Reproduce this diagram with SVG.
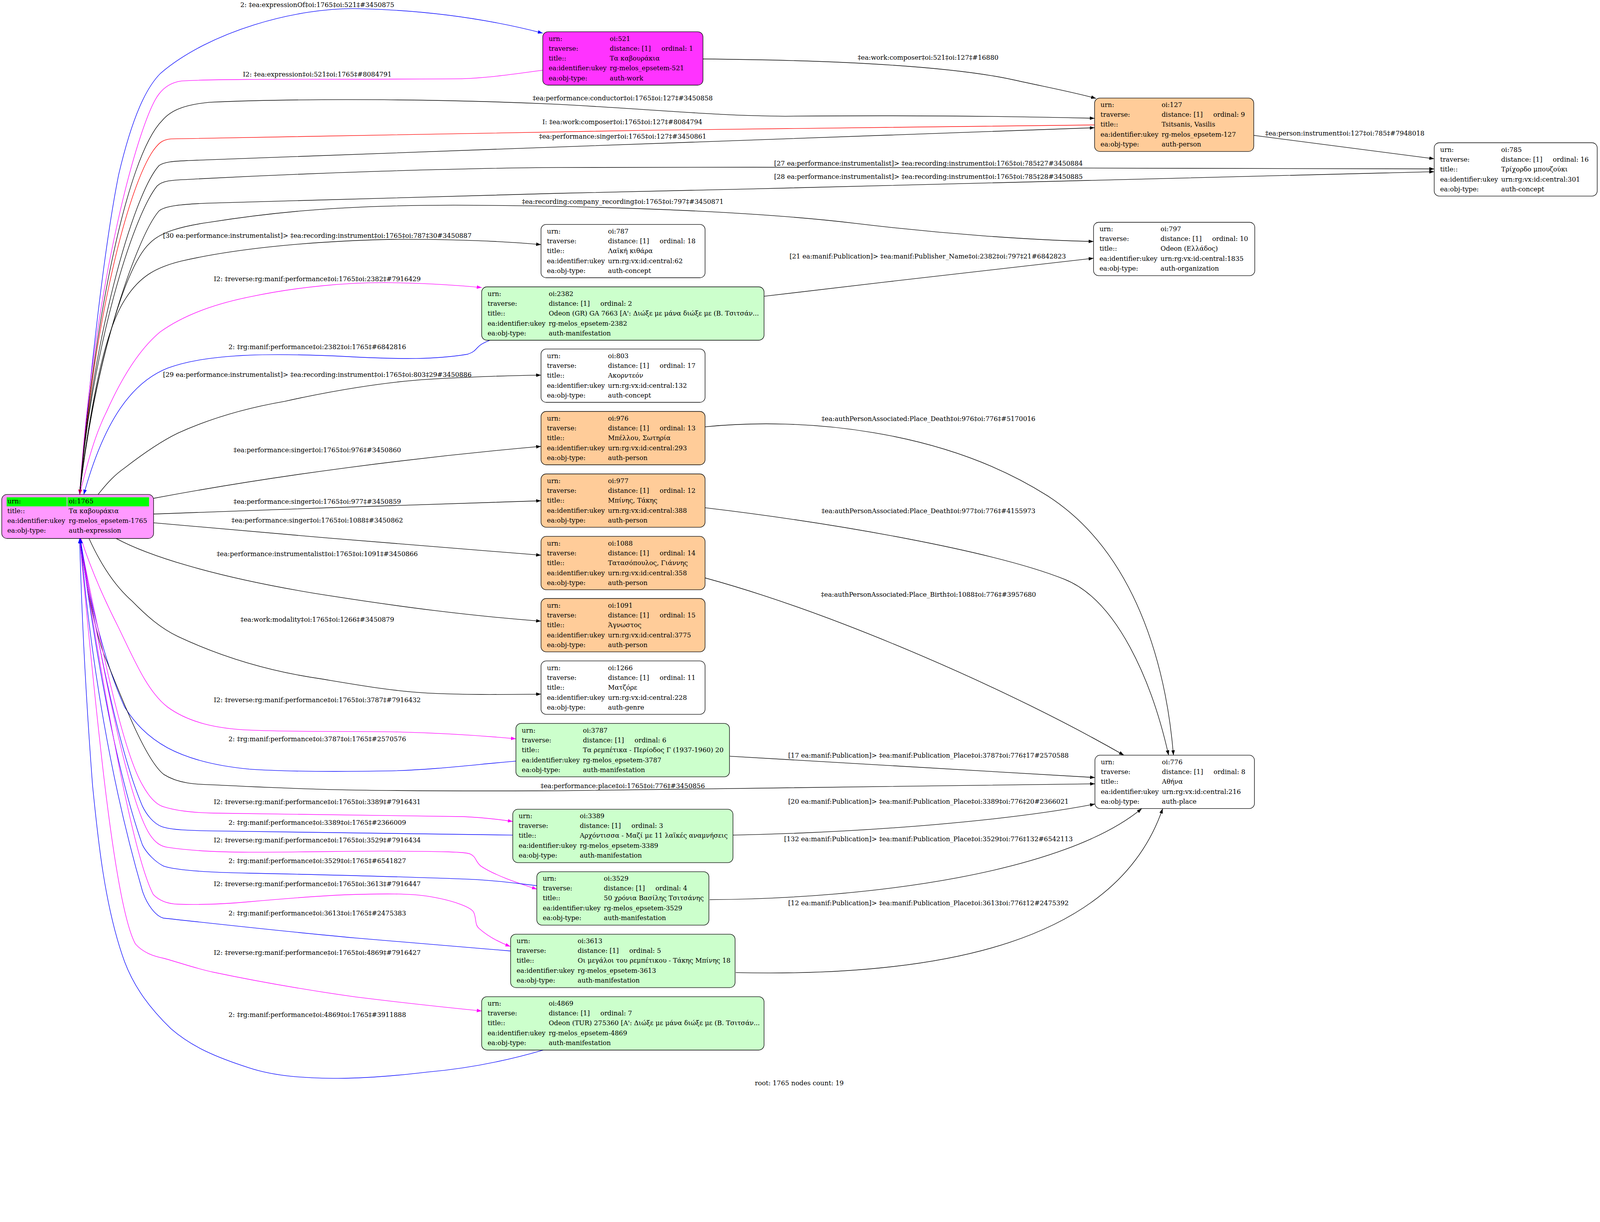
<svg xmlns="http://www.w3.org/2000/svg" width="4584" height="3129" viewBox="0 0 4584 3129">
<style>
svg{width:100vw;height:68.259vw;display:block}
text{font-family:"DejaVu Serif","Liberation Serif",serif;font-size:18.6px;fill:#000}
.el{text-anchor:middle}
.box{stroke:#000;stroke-width:1.5}
.e{fill:none;stroke-width:1.5}
.k{stroke:#000}.b{stroke:#0000ff}.m{stroke:#ff00ff}.r{stroke:#ff0000}
</style>
<defs>
<marker id="ak" markerUnits="userSpaceOnUse" markerWidth="15" markerHeight="11" refX="14" refY="5" orient="auto"><path d="M0,0 L14,5 L0,10 z" fill="#000"/></marker>
<marker id="ab" markerUnits="userSpaceOnUse" markerWidth="15" markerHeight="11" refX="14" refY="5" orient="auto"><path d="M0,0 L14,5 L0,10 z" fill="#0000ff"/></marker>
<marker id="am" markerUnits="userSpaceOnUse" markerWidth="15" markerHeight="11" refX="14" refY="5" orient="auto"><path d="M0,0 L14,5 L0,10 z" fill="#ff00ff"/></marker>
<marker id="ar" markerUnits="userSpaceOnUse" markerWidth="15" markerHeight="11" refX="14" refY="5" orient="auto"><path d="M0,0 L14,5 L0,10 z" fill="#ff0000"/></marker>
</defs>
<rect width="4584" height="3129" fill="#fff"/>
<g id="edges">
<path class="e b" marker-end="url(#ab)" d="M228,1417 C260,1050 300,700 340,500 C380,330 420,250 460,210 C600,90 850,20 1030,25 C1250,30 1420,60 1555,95"/>
<path class="e m" marker-end="url(#am)" d="M1556,201 C1450,215 1380,226 1300,226 C1000,228 620,225 520,232 C490,236 470,250 455,270 C400,340 270,800 228,1417"/>
<path class="e k" marker-end="url(#ak)" d="M2014,169 C2350,172 2700,185 2900,228 C3000,250 3080,265 3140,282"/>
<path class="e k" marker-end="url(#ak)" d="M228,1417 C265,950 360,450 465,345 C490,315 530,300 600,293 C900,280 1300,285 1600,299 C1900,315 2050,332 2250,333 C2600,330 2900,333 3136,339"/>
<path class="e r" marker-end="url(#ar)" d="M3136,358 C2500,362 1000,385 490,398 C465,400 455,410 440,430 C370,530 270,900 229,1417"/>
<path class="e k" marker-end="url(#ak)" d="M228,1417 C262,980 380,560 455,475 C470,463 500,462 540,460 C1400,428 2400,392 3136,366"/>
<path class="e k" marker-end="url(#ak)" d="M3592,388 L4109,455"/>
<path class="e k" marker-end="url(#ak)" d="M228,1417 C262,1000 380,620 450,533 C465,518 490,516 540,514 C900,495 1300,482 1600,480 C2500,478 3500,480 4109,484"/>
<path class="e k" marker-end="url(#ak)" d="M228,1417 C265,1050 390,680 455,605 C470,590 520,585 600,582 C1000,570 1300,560 1600,554 C2500,535 3500,505 4109,492"/>
<path class="e k" marker-end="url(#ak)" d="M228,1417 C265,1100 350,770 429,697 C460,665 520,648 600,637 C800,605 1000,588 1300,588 C1800,590 2200,610 2450,640 C2700,670 2950,688 3133,692"/>
<path class="e k" marker-end="url(#ak)" d="M228,1417 C260,1150 300,950 357,860 C400,790 450,765 520,748 C650,718 850,692 1122,686 C1300,685 1450,692 1550,701"/>
<path class="e m" marker-end="url(#am)" d="M228,1417 C250,1330 270,1250 306,1178 C350,1080 400,1000 459,951 C530,900 620,870 714,851 C850,822 1000,808 1122,810 C1220,812 1300,816 1380,824"/>
<path class="e k" marker-end="url(#ak)" d="M2189,849 C2500,812 2900,766 3133,740"/>
<path class="e b" marker-end="url(#ab)" d="M1404,975 C1385,982 1375,988 1368,996 C1360,1005 1355,1010 1340,1015 C1250,1030 1150,1030 1000,1022 C800,1012 600,1010 480,1055 C380,1095 300,1200 240,1417"/>
<path class="e k" marker-end="url(#ak)" d="M281,1417 C310,1380 330,1360 357,1341 C410,1300 460,1265 510,1241 C600,1200 700,1170 816,1150 C950,1120 1100,1095 1224,1087 C1350,1080 1450,1076 1550,1075"/>
<path class="e k" marker-end="url(#ak)" d="M440,1428 C800,1360 1200,1310 1550,1279"/>
<path class="e k" marker-end="url(#ak)" d="M440,1473 C800,1460 1200,1445 1550,1435"/>
<path class="e k" marker-end="url(#ak)" d="M440,1498 C800,1530 1200,1565 1550,1591"/>
<path class="e k" marker-end="url(#ak)" d="M333,1543 C420,1590 600,1650 900,1700 C1150,1740 1350,1765 1550,1780"/>
<path class="e k" marker-end="url(#ak)" d="M255,1543 C290,1620 330,1680 378,1722 C420,1765 460,1800 510,1824 C640,1885 780,1925 918,1945 C1020,1962 1120,1980 1224,1986 C1350,1992 1450,1990 1550,1989"/>
<path class="e m" marker-end="url(#am)" d="M232,1543 C260,1630 300,1720 337,1793 C380,1880 420,1980 480,2026 C540,2070 620,2088 714,2092 C850,2098 1000,2095 1122,2097 C1250,2100 1380,2108 1478,2117"/>
<path class="e b" marker-end="url(#ab)" d="M1478,2181 C1350,2192 1250,2205 1122,2209 C950,2212 800,2210 714,2204 C620,2195 540,2175 480,2143 C420,2110 385,2070 357,2026 C300,1900 250,1700 230,1543"/>
<path class="e k" marker-end="url(#ak)" d="M2091,2167 C2500,2190 2900,2215 3137,2228"/>
<path class="e k" marker-end="url(#ak)" d="M228,1543 C250,1700 280,1840 306,1895 C360,2030 420,2180 469,2219 C510,2245 560,2248 612,2249 C750,2256 900,2262 1020,2264 C1300,2268 1500,2266 1600,2266 C2200,2262 2700,2252 3137,2246"/>
<path class="e m" marker-end="url(#am)" d="M228,1543 C290,1850 350,2150 408,2249 C425,2280 445,2305 469,2312 C510,2325 560,2329 612,2330 C900,2334 1150,2336 1327,2340 C1390,2343 1430,2348 1469,2354"/>
<path class="e b" marker-end="url(#ab)" d="M1469,2393 C1200,2390 900,2385 612,2381 C540,2380 490,2378 464,2369 C440,2360 420,2335 408,2310 C340,2150 280,1850 230,1543"/>
<path class="e k" marker-end="url(#ak)" d="M2100,2393 C2500,2385 2900,2350 3137,2304"/>
<path class="e m" marker-end="url(#am)" d="M228,1543 C300,1950 370,2300 429,2391 C445,2415 460,2425 480,2428 C560,2440 640,2442 714,2442 C900,2442 1000,2438 1122,2439 C1250,2440 1330,2440 1347,2447 C1365,2455 1362,2470 1378,2482 C1420,2510 1490,2532 1538,2548"/>
<path class="e b" marker-end="url(#ab)" d="M1539,2538 C1470,2530 1420,2523 1357,2520 C1150,2512 900,2506 714,2502 C600,2500 510,2495 469,2482 C445,2470 420,2445 408,2421 C330,2200 270,1850 230,1543"/>
<path class="e k" marker-end="url(#ak)" d="M2033,2578 C2500,2575 3050,2500 3271,2317"/>
<path class="e m" marker-end="url(#am)" d="M228,1543 C300,2000 380,2450 439,2563 C455,2580 480,2590 510,2591 C580,2593 650,2590 714,2584 C850,2572 940,2565 1020,2563 C1100,2561 1170,2560 1224,2568 C1300,2580 1350,2600 1357,2614 C1365,2630 1360,2650 1372,2660 C1400,2685 1430,2700 1462,2712"/>
<path class="e b" marker-end="url(#ab)" d="M1462,2725 C1300,2712 1150,2700 1020,2688 C800,2668 600,2645 469,2631 C445,2625 420,2590 408,2553 C320,2250 260,1900 230,1543"/>
<path class="e k" marker-end="url(#ak)" d="M2108,2787 C2700,2800 3200,2700 3331,2317"/>
<path class="e m" marker-end="url(#am)" d="M228,1543 C280,2100 330,2600 388,2705 C410,2730 440,2740 469,2746 C520,2760 560,2775 612,2786 C750,2815 900,2840 1020,2857 C1150,2873 1280,2887 1380,2897"/>
<path class="e b" marker-end="url(#ab)" d="M1556,3009 C1450,3040 1340,3062 1224,3072 C1130,3083 1050,3090 969,3090 C880,3090 790,3085 714,3060 C620,3030 550,3000 490,2948 C430,2890 385,2830 357,2756 C300,2600 280,2400 265,2249 C250,2050 235,1800 228,1543"/>
<path class="e k" marker-end="url(#ak)" d="M2020,1223 C2300,1195 2700,1230 3000,1420 C3250,1580 3340,1900 3362,2164"/>
<path class="e k" marker-end="url(#ak)" d="M2020,1455 C2400,1500 2850,1580 3050,1660 C3200,1720 3300,1950 3348,2164"/>
<path class="e k" marker-end="url(#ak)" d="M2020,1656 C2400,1760 2900,1980 3220,2164"/>
<g class="el">
<text x="909" y="20">2: ‡ea:expressionOf‡oi:1765‡oi:521‡#3450875</text>
<text x="909" y="219">I2: ‡ea:expression‡oi:521‡oi:1765‡#8084791</text>
<text x="2659" y="171">‡ea:work:composer‡oi:521‡oi:127‡#16880</text>
<text x="1784" y="288">‡ea:performance:conductor‡oi:1765‡oi:127‡#3450858</text>
<text x="1783" y="356">I: ‡ea:work:composer‡oi:1765‡oi:127‡#8084794</text>
<text x="1784" y="397">‡ea:performance:singer‡oi:1765‡oi:127‡#3450861</text>
<text x="3853" y="388">‡ea:person:instrument‡oi:127‡oi:785‡#7948018</text>
<text x="2660" y="474">[27 ea:performance:instrumentalist]&gt; ‡ea:recording:instrument‡oi:1765‡oi:785‡27#3450884</text>
<text x="2660" y="512">[28 ea:performance:instrumentalist]&gt; ‡ea:recording:instrument‡oi:1765‡oi:785‡28#3450885</text>
<text x="1784" y="584">‡ea:recording:company_recording‡oi:1765‡oi:797‡#3450871</text>
<text x="909" y="682">[30 ea:performance:instrumentalist]&gt; ‡ea:recording:instrument‡oi:1765‡oi:787‡30#3450887</text>
<text x="2658" y="741">[21 ea:manif:Publication]&gt; ‡ea:manif:Publisher_Name‡oi:2382‡oi:797‡21#6842823</text>
<text x="909" y="806">I2: ‡reverse:rg:manif:performance‡oi:1765‡oi:2382‡#7916429</text>
<text x="909" y="1001">2: ‡rg:manif:performance‡oi:2382‡oi:1765‡#6842816</text>
<text x="909" y="1080">[29 ea:performance:instrumentalist]&gt; ‡ea:recording:instrument‡oi:1765‡oi:803‡29#3450886</text>
<text x="2660" y="1206">‡ea:authPersonAssociated:Place_Death‡oi:976‡oi:776‡#5170016</text>
<text x="909" y="1296">‡ea:performance:singer‡oi:1765‡oi:976‡#3450860</text>
<text x="909" y="1444">‡ea:performance:singer‡oi:1765‡oi:977‡#3450859</text>
<text x="2660" y="1470">‡ea:authPersonAssociated:Place_Death‡oi:977‡oi:776‡#4155973</text>
<text x="909" y="1497">‡ea:performance:singer‡oi:1765‡oi:1088‡#3450862</text>
<text x="909" y="1594">‡ea:performance:instrumentalist‡oi:1765‡oi:1091‡#3450866</text>
<text x="2660" y="1710">‡ea:authPersonAssociated:Place_Birth‡oi:1088‡oi:776‡#3957680</text>
<text x="909" y="1782">‡ea:work:modality‡oi:1765‡oi:1266‡#3450879</text>
<text x="909" y="2012">I2: ‡reverse:rg:manif:performance‡oi:1765‡oi:3787‡#7916432</text>
<text x="909" y="2124">2: ‡rg:manif:performance‡oi:3787‡oi:1765‡#2570576</text>
<text x="2660" y="2171">[17 ea:manif:Publication]&gt; ‡ea:manif:Publication_Place‡oi:3787‡oi:776‡17#2570588</text>
<text x="1784" y="2258">‡ea:performance:place‡oi:1765‡oi:776‡#3450856</text>
<text x="909" y="2304">I2: ‡reverse:rg:manif:performance‡oi:1765‡oi:3389‡#7916431</text>
<text x="2660" y="2303">[20 ea:manif:Publication]&gt; ‡ea:manif:Publication_Place‡oi:3389‡oi:776‡20#2366021</text>
<text x="909" y="2363">2: ‡rg:manif:performance‡oi:3389‡oi:1765‡#2366009</text>
<text x="909" y="2414">I2: ‡reverse:rg:manif:performance‡oi:1765‡oi:3529‡#7916434</text>
<text x="2660" y="2410">[132 ea:manif:Publication]&gt; ‡ea:manif:Publication_Place‡oi:3529‡oi:776‡132#6542113</text>
<text x="909" y="2473">2: ‡rg:manif:performance‡oi:3529‡oi:1765‡#6541827</text>
<text x="909" y="2539">I2: ‡reverse:rg:manif:performance‡oi:1765‡oi:3613‡#7916447</text>
<text x="2660" y="2594">[12 ea:manif:Publication]&gt; ‡ea:manif:Publication_Place‡oi:3613‡oi:776‡12#2475392</text>
<text x="909" y="2623">2: ‡rg:manif:performance‡oi:3613‡oi:1765‡#2475383</text>
<text x="909" y="2736">I2: ‡reverse:rg:manif:performance‡oi:1765‡oi:4869‡#7916427</text>
<text x="909" y="2914">2: ‡rg:manif:performance‡oi:4869‡oi:1765‡#3911888</text>
</g>
</g>
<g id="n1765" transform="translate(5,1417)">
<rect class="box" width="435" height="126" rx="15" fill="#ff99ff"/>
<rect x="14" y="8" width="172" height="26" fill="#00ff00"/>
<rect x="188" y="8" width="234" height="26" fill="#00ff00"/>
<text x="16" y="26">urn:</text><text x="192" y="26">oi:1765</text>
<text x="16" y="54">title::</text><text x="192" y="54">Τα καβουράκια</text>
<text x="16" y="82">ea:identifier:ukey</text><text x="192" y="82">rg-melos_epsetem-1765</text>
<text x="16" y="110">ea:obj-type:</text><text x="192" y="110">auth-expression</text>
</g>
<g id="n521" transform="translate(1555,91)">
<rect class="box" width="459" height="153" rx="15" fill="#ff33ff"/>
<text x="17" y="26">urn:</text><text x="192" y="26">oi:521</text>
<text x="17" y="54">traverse:</text><text x="192" y="54">distance: [1]</text><text x="340" y="54">ordinal: 1</text>
<text x="17" y="82">title::</text><text x="192" y="82">Τα καβουράκια</text>
<text x="17" y="111">ea:identifier:ukey</text><text x="192" y="111">rg-melos_epsetem-521</text>
<text x="17" y="139">ea:obj-type:</text><text x="192" y="139">auth-work</text>
</g>
<g id="n127" transform="translate(3136,281)">
<rect class="box" width="456" height="153" rx="15" fill="#ffcc99"/>
<text x="17" y="26">urn:</text><text x="192" y="26">oi:127</text>
<text x="17" y="54">traverse:</text><text x="192" y="54">distance: [1]</text><text x="340" y="54">ordinal: 9</text>
<text x="17" y="82">title::</text><text x="192" y="82">Tsitsanis, Vasilis</text>
<text x="17" y="111">ea:identifier:ukey</text><text x="192" y="111">rg-melos_epsetem-127</text>
<text x="17" y="139">ea:obj-type:</text><text x="192" y="139">auth-person</text>
</g>
<g id="n785" transform="translate(4109,409)">
<rect class="box" width="467" height="153" rx="15" fill="#fff"/>
<text x="17" y="26">urn:</text><text x="192" y="26">oi:785</text>
<text x="17" y="54">traverse:</text><text x="192" y="54">distance: [1]</text><text x="340" y="54">ordinal: 16</text>
<text x="17" y="82">title::</text><text x="192" y="82">Τρίχορδο μπουζούκι</text>
<text x="17" y="111">ea:identifier:ukey</text><text x="192" y="111">urn:rg:vx:id:central:301</text>
<text x="17" y="139">ea:obj-type:</text><text x="192" y="139">auth-concept</text>
</g>
<g id="n797" transform="translate(3133,637)">
<rect class="box" width="462" height="153" rx="15" fill="#fff"/>
<text x="17" y="26">urn:</text><text x="192" y="26">oi:797</text>
<text x="17" y="54">traverse:</text><text x="192" y="54">distance: [1]</text><text x="340" y="54">ordinal: 10</text>
<text x="17" y="82">title::</text><text x="192" y="82">Odeon (Ελλάδος)</text>
<text x="17" y="111">ea:identifier:ukey</text><text x="192" y="111">urn:rg:vx:id:central:1835</text>
<text x="17" y="139">ea:obj-type:</text><text x="192" y="139">auth-organization</text>
</g>
<g id="n787" transform="translate(1550,643)">
<rect class="box" width="470" height="153" rx="15" fill="#fff"/>
<text x="17" y="26">urn:</text><text x="192" y="26">oi:787</text>
<text x="17" y="54">traverse:</text><text x="192" y="54">distance: [1]</text><text x="340" y="54">ordinal: 18</text>
<text x="17" y="82">title::</text><text x="192" y="82">Λαϊκή κιθάρα</text>
<text x="17" y="111">ea:identifier:ukey</text><text x="192" y="111">urn:rg:vx:id:central:62</text>
<text x="17" y="139">ea:obj-type:</text><text x="192" y="139">auth-concept</text>
</g>
<g id="n2382" transform="translate(1380,822)">
<rect class="box" width="809" height="153" rx="15" fill="#ccffcc"/>
<text x="17" y="26">urn:</text><text x="192" y="26">oi:2382</text>
<text x="17" y="54">traverse:</text><text x="192" y="54">distance: [1]</text><text x="340" y="54">ordinal: 2</text>
<text x="17" y="82">title::</text><text x="192" y="82">Odeon (GR) GA 7663 [A': Διώξε με μάνα διώξε με (Β. Τσιτσάν...</text>
<text x="17" y="111">ea:identifier:ukey</text><text x="192" y="111">rg-melos_epsetem-2382</text>
<text x="17" y="139">ea:obj-type:</text><text x="192" y="139">auth-manifestation</text>
</g>
<g id="n803" transform="translate(1550,1000)">
<rect class="box" width="470" height="153" rx="15" fill="#fff"/>
<text x="17" y="26">urn:</text><text x="192" y="26">oi:803</text>
<text x="17" y="54">traverse:</text><text x="192" y="54">distance: [1]</text><text x="340" y="54">ordinal: 17</text>
<text x="17" y="82">title::</text><text x="192" y="82">Ακορντεόν</text>
<text x="17" y="111">ea:identifier:ukey</text><text x="192" y="111">urn:rg:vx:id:central:132</text>
<text x="17" y="139">ea:obj-type:</text><text x="192" y="139">auth-concept</text>
</g>
<g id="n976" transform="translate(1550,1179)">
<rect class="box" width="470" height="153" rx="15" fill="#ffcc99"/>
<text x="17" y="26">urn:</text><text x="192" y="26">oi:976</text>
<text x="17" y="54">traverse:</text><text x="192" y="54">distance: [1]</text><text x="340" y="54">ordinal: 13</text>
<text x="17" y="82">title::</text><text x="192" y="82">Μπέλλου, Σωτηρία</text>
<text x="17" y="111">ea:identifier:ukey</text><text x="192" y="111">urn:rg:vx:id:central:293</text>
<text x="17" y="139">ea:obj-type:</text><text x="192" y="139">auth-person</text>
</g>
<g id="n977" transform="translate(1550,1358)">
<rect class="box" width="470" height="153" rx="15" fill="#ffcc99"/>
<text x="17" y="26">urn:</text><text x="192" y="26">oi:977</text>
<text x="17" y="54">traverse:</text><text x="192" y="54">distance: [1]</text><text x="340" y="54">ordinal: 12</text>
<text x="17" y="82">title::</text><text x="192" y="82">Μπίνης, Τάκης</text>
<text x="17" y="111">ea:identifier:ukey</text><text x="192" y="111">urn:rg:vx:id:central:388</text>
<text x="17" y="139">ea:obj-type:</text><text x="192" y="139">auth-person</text>
</g>
<g id="n1088" transform="translate(1550,1537)">
<rect class="box" width="470" height="153" rx="15" fill="#ffcc99"/>
<text x="17" y="26">urn:</text><text x="192" y="26">oi:1088</text>
<text x="17" y="54">traverse:</text><text x="192" y="54">distance: [1]</text><text x="340" y="54">ordinal: 14</text>
<text x="17" y="82">title::</text><text x="192" y="82">Τατασόπουλος, Γιάννης</text>
<text x="17" y="111">ea:identifier:ukey</text><text x="192" y="111">urn:rg:vx:id:central:358</text>
<text x="17" y="139">ea:obj-type:</text><text x="192" y="139">auth-person</text>
</g>
<g id="n1091" transform="translate(1550,1715)">
<rect class="box" width="470" height="153" rx="15" fill="#ffcc99"/>
<text x="17" y="26">urn:</text><text x="192" y="26">oi:1091</text>
<text x="17" y="54">traverse:</text><text x="192" y="54">distance: [1]</text><text x="340" y="54">ordinal: 15</text>
<text x="17" y="82">title::</text><text x="192" y="82">Άγνωστος</text>
<text x="17" y="111">ea:identifier:ukey</text><text x="192" y="111">urn:rg:vx:id:central:3775</text>
<text x="17" y="139">ea:obj-type:</text><text x="192" y="139">auth-person</text>
</g>
<g id="n1266" transform="translate(1550,1894)">
<rect class="box" width="470" height="153" rx="15" fill="#fff"/>
<text x="17" y="26">urn:</text><text x="192" y="26">oi:1266</text>
<text x="17" y="54">traverse:</text><text x="192" y="54">distance: [1]</text><text x="340" y="54">ordinal: 11</text>
<text x="17" y="82">title::</text><text x="192" y="82">Ματζόρε</text>
<text x="17" y="111">ea:identifier:ukey</text><text x="192" y="111">urn:rg:vx:id:central:228</text>
<text x="17" y="139">ea:obj-type:</text><text x="192" y="139">auth-genre</text>
</g>
<g id="n3787" transform="translate(1478,2073)">
<rect class="box" width="612" height="153" rx="15" fill="#ccffcc"/>
<text x="17" y="26">urn:</text><text x="192" y="26">oi:3787</text>
<text x="17" y="54">traverse:</text><text x="192" y="54">distance: [1]</text><text x="340" y="54">ordinal: 6</text>
<text x="17" y="82">title::</text><text x="192" y="82">Τα ρεμπέτικα - Περίοδος Γ (1937-1960) 20</text>
<text x="17" y="111">ea:identifier:ukey</text><text x="192" y="111">rg-melos_epsetem-3787</text>
<text x="17" y="139">ea:obj-type:</text><text x="192" y="139">auth-manifestation</text>
</g>
<g id="n776" transform="translate(3137,2164)">
<rect class="box" width="457" height="153" rx="15" fill="#fff"/>
<text x="17" y="26">urn:</text><text x="192" y="26">oi:776</text>
<text x="17" y="54">traverse:</text><text x="192" y="54">distance: [1]</text><text x="340" y="54">ordinal: 8</text>
<text x="17" y="82">title::</text><text x="192" y="82">Αθήνα</text>
<text x="17" y="111">ea:identifier:ukey</text><text x="192" y="111">urn:rg:vx:id:central:216</text>
<text x="17" y="139">ea:obj-type:</text><text x="192" y="139">auth-place</text>
</g>
<g id="n3389" transform="translate(1469,2319)">
<rect class="box" width="631" height="153" rx="15" fill="#ccffcc"/>
<text x="17" y="26">urn:</text><text x="192" y="26">oi:3389</text>
<text x="17" y="54">traverse:</text><text x="192" y="54">distance: [1]</text><text x="340" y="54">ordinal: 3</text>
<text x="17" y="82">title::</text><text x="192" y="82">Αρχόντισσα - Μαζί με 11 λαϊκές αναμνήσεις</text>
<text x="17" y="111">ea:identifier:ukey</text><text x="192" y="111">rg-melos_epsetem-3389</text>
<text x="17" y="139">ea:obj-type:</text><text x="192" y="139">auth-manifestation</text>
</g>
<g id="n3529" transform="translate(1538,2498)">
<rect class="box" width="493" height="153" rx="15" fill="#ccffcc"/>
<text x="17" y="26">urn:</text><text x="192" y="26">oi:3529</text>
<text x="17" y="54">traverse:</text><text x="192" y="54">distance: [1]</text><text x="340" y="54">ordinal: 4</text>
<text x="17" y="82">title::</text><text x="192" y="82">50 χρόνια Βασίλης Τσιτσάνης</text>
<text x="17" y="111">ea:identifier:ukey</text><text x="192" y="111">rg-melos_epsetem-3529</text>
<text x="17" y="139">ea:obj-type:</text><text x="192" y="139">auth-manifestation</text>
</g>
<g id="n3613" transform="translate(1463,2677)">
<rect class="box" width="643" height="153" rx="15" fill="#ccffcc"/>
<text x="17" y="26">urn:</text><text x="192" y="26">oi:3613</text>
<text x="17" y="54">traverse:</text><text x="192" y="54">distance: [1]</text><text x="340" y="54">ordinal: 5</text>
<text x="17" y="82">title::</text><text x="192" y="82">Οι μεγάλοι του ρεμπέτικου - Τάκης Μπίνης 18</text>
<text x="17" y="111">ea:identifier:ukey</text><text x="192" y="111">rg-melos_epsetem-3613</text>
<text x="17" y="139">ea:obj-type:</text><text x="192" y="139">auth-manifestation</text>
</g>
<g id="n4869" transform="translate(1380,2856)">
<rect class="box" width="809" height="153" rx="15" fill="#ccffcc"/>
<text x="17" y="26">urn:</text><text x="192" y="26">oi:4869</text>
<text x="17" y="54">traverse:</text><text x="192" y="54">distance: [1]</text><text x="340" y="54">ordinal: 7</text>
<text x="17" y="82">title::</text><text x="192" y="82">Odeon (TUR) 275360 [A': Διώξε με μάνα διώξε με (Β. Τσιτσάν...</text>
<text x="17" y="111">ea:identifier:ukey</text><text x="192" y="111">rg-melos_epsetem-4869</text>
<text x="17" y="139">ea:obj-type:</text><text x="192" y="139">auth-manifestation</text>
</g>
<text class="el" x="2290" y="3110">root: 1765 nodes count: 19</text>
</svg>
